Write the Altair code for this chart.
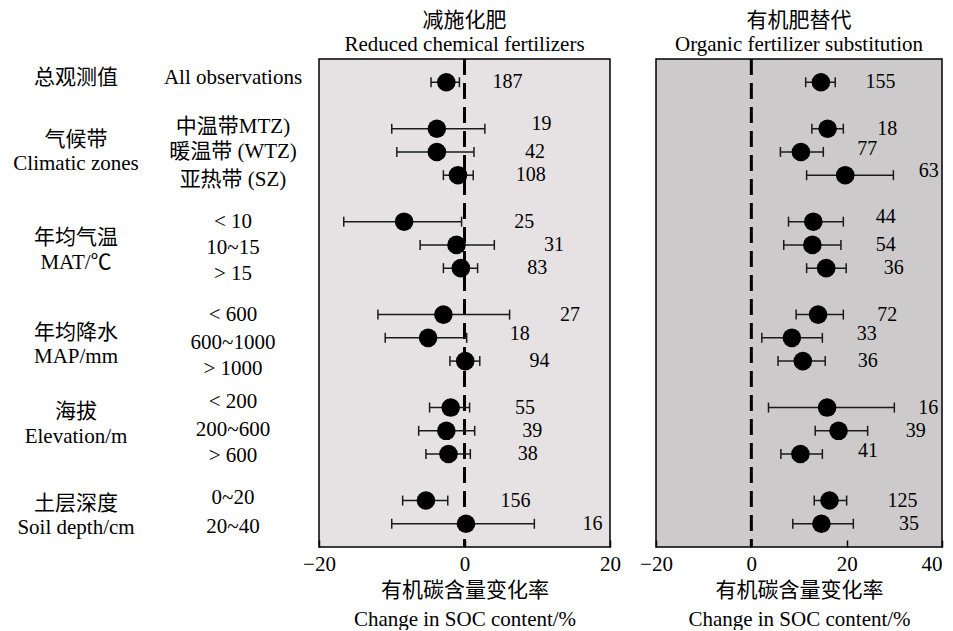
import altair as alt
import pandas as pd

FONT = "Liberation Serif, Noto Sans CJK SC"

# ---- data ----
rows = [0, 2, 3, 4, 6, 7, 8, 10, 11, 12, 14, 15, 16, 18, 19]

left_mean = [-2.5, -3.8, -3.8, -0.9, -8.3, -1.1, -0.5, -2.9, -5.0, 0.1, -1.9, -2.5, -2.2, -5.3, 0.2]
left_lo = [-4.6, -10.0, -9.3, -2.9, -16.6, -6.1, -2.9, -11.9, -10.9, -2.0, -4.8, -6.3, -5.3, -8.5, -10.0]
left_hi = [-0.7, 2.8, 1.3, 1.2, -0.4, 4.1, 1.8, 6.2, 0.3, 2.1, 0.7, 1.4, 0.8, -2.3, 9.6]
left_n = [187, 19, 42, 108, 25, 31, 83, 27, 18, 94, 55, 39, 38, 156, 16]
left_label_x = [5.9, 10.6, 9.7, 9.1, 8.2, 12.3, 10.0, 14.5, 7.6, 10.3, 8.3, 9.3, 8.7, 7.0, 17.6]
left_label_row = [0, 1.8, 3, 4, 6, 7, 8, 10, 10.83, 12, 14, 15, 16, 18, 19]

right_mean = [14.6, 16.0, 10.4, 19.7, 13.0, 12.8, 15.7, 14.0, 8.5, 10.8, 15.9, 18.3, 10.3, 16.4, 14.7]
right_lo = [11.4, 12.7, 6.1, 11.6, 7.8, 6.8, 11.6, 9.4, 2.2, 5.6, 3.6, 13.4, 6.2, 13.2, 8.7]
right_hi = [17.6, 19.3, 15.1, 29.8, 19.3, 18.8, 19.9, 19.3, 14.9, 15.5, 30.0, 24.4, 14.9, 20.0, 21.4]
right_n = [155, 18, 77, 63, 44, 54, 36, 72, 33, 36, 16, 39, 41, 125, 35]
right_label_x = [27.1, 28.5, 24.3, 37.2, 28.2, 28.2, 29.9, 28.5, 24.2, 24.4, 37.1, 34.5, 24.5, 31.7, 33.1]
right_label_row = [0, 2, 2.88, 3.83, 5.81, 7, 8, 10, 10.83, 12, 14, 15, 15.86, 18, 19]

group_text = ["总观测值", "气候带", "Climatic zones", "年均气温", "MAT/℃", "年均降水", "MAP/mm",
              "海拔", "Elevation/m", "土层深度", "Soil depth/cm"]
group_row = [-0.2, 2.5, 3.53, 6.71, 7.79, 10.8, 11.83, 14.2, 15.28, 18.16, 19.19]

sub_text = ["All observations", "中温带MTZ)", "暖温带 (WTZ)", "亚热带 (SZ)", "< 10", "10~15", "> 15",
            "< 600", "600~1000", "> 1000", "< 200", "200~600", "> 600", "0~20", "20~40"]
sub_row = [-0.2, 1.94, 3.0, 4.2, 6.0, 7.15, 8.26, 10.03, 11.2, 12.35, 13.76, 14.97, 16.1, 17.9, 19.13]

left_ticks = [-20, 0, 20]
right_ticks = [-20, 0, 20, 40]

H = 488
yscale = alt.Scale(domain=[-1, 20], reverse=True, nice=False, zero=False)


def panel(mean, lo, hi, n, lx, lrow, domain, ticks, width, fill, title, last_flush):
    df = pd.DataFrame({"row": rows, "mean": mean, "lo": lo, "hi": hi})
    lab = pd.DataFrame({"lx": lx, "lrow": lrow, "n": [str(v) for v in n]})
    xs = alt.Scale(domain=domain, nice=False, zero=False)
    align = {"expr": "datum.value == %d ? 'right' : 'center'" % domain[1]} if last_flush else "center"
    xaxis = alt.Axis(
        values=ticks, title=["有机碳含量变化率", "Change in SOC content/%"],
        domain=False, grid=False, ticks=True, tickSize=7, tickWidth=1.5, tickColor="black",
        offset=-7, labelPadding=6, labelFlush=False, labelOverlap=False, labelAlign=align,
        labelFont=FONT, labelFontSize=21, labelColor="black",
        titleFont=FONT, titleFontSize=21, titleFontWeight="normal", titleColor="black",
        titleLineHeight=29, titlePadding=5,
    )
    base = alt.Chart(df)
    zero = alt.Chart(pd.DataFrame({"z": [0]})).mark_rule(
        color="black", strokeWidth=3, strokeDash=[16, 8]
    ).encode(x=alt.X("z:Q", scale=xs, axis=xaxis))
    bars = base.mark_rule(color="#1a1a1a", strokeWidth=1.5).encode(
        x=alt.X("lo:Q", scale=xs), x2="hi:Q", y=alt.Y("row:Q", scale=yscale, axis=None)
    )
    cap_lo = base.mark_tick(orient="vertical", size=10, thickness=1.5, color="#1a1a1a", opacity=1).encode(
        x=alt.X("lo:Q", scale=xs), y=alt.Y("row:Q", scale=yscale, axis=None)
    )
    cap_hi = base.mark_tick(orient="vertical", size=10, thickness=1.5, color="#1a1a1a", opacity=1).encode(
        x=alt.X("hi:Q", scale=xs), y=alt.Y("row:Q", scale=yscale, axis=None)
    )
    pts = base.mark_circle(size=345, color="black", opacity=1).encode(
        x=alt.X("mean:Q", scale=xs), y=alt.Y("row:Q", scale=yscale, axis=None)
    )
    txt = alt.Chart(lab).mark_text(font=FONT, fontSize=20, color="black", align="center", baseline="middle").encode(
        x=alt.X("lx:Q", scale=xs), y=alt.Y("lrow:Q", scale=yscale, axis=None), text="n:N"
    )
    return alt.layer(zero, bars, cap_lo, cap_hi, pts, txt).properties(
        width=width, height=H,
        view=alt.ViewBackground(fill=fill, stroke="black", strokeWidth=1.5),
        title=alt.TitleParams(text=title, font=FONT, fontSize=21, fontWeight="normal",
                              lineHeight=24, anchor="middle", offset=3, color="black"),
    )


gdf = pd.DataFrame({"t": group_text, "r": group_row})
sdf = pd.DataFrame({"t": sub_text, "r": sub_row})
glab = alt.Chart(gdf).mark_text(font=FONT, fontSize=21, color="black", align="center", baseline="middle").encode(
    x=alt.value(68), y=alt.Y("r:Q", scale=yscale, axis=None), text="t:N"
)
slab = alt.Chart(sdf).mark_text(font=FONT, fontSize=21, color="black", align="center", baseline="middle").encode(
    x=alt.value(225), y=alt.Y("r:Q", scale=yscale, axis=None), text="t:N"
)
labels = alt.layer(glab, slab).properties(width=265, height=H, view=alt.ViewBackground(stroke=None))

left = panel(left_mean, left_lo, left_hi, left_n, left_label_x, left_label_row,
             [-20, 20], left_ticks, 291, "#e6e2e3", ["减施化肥", "Reduced chemical fertilizers"], False)
right = panel(right_mean, right_lo, right_hi, right_n, right_label_x, right_label_row,
              [-20, 40], right_ticks, 286, "#cdcacb", ["有机肥替代", "Organic fertilizer substitution"], True)

chart = alt.hconcat(labels, left, right, spacing=46, bounds="flush").resolve_scale(
    x="independent", y="shared"
).properties(padding=0, background="white")

chart.save("out.html", embed_options={"renderer": "svg", "actions": False})
